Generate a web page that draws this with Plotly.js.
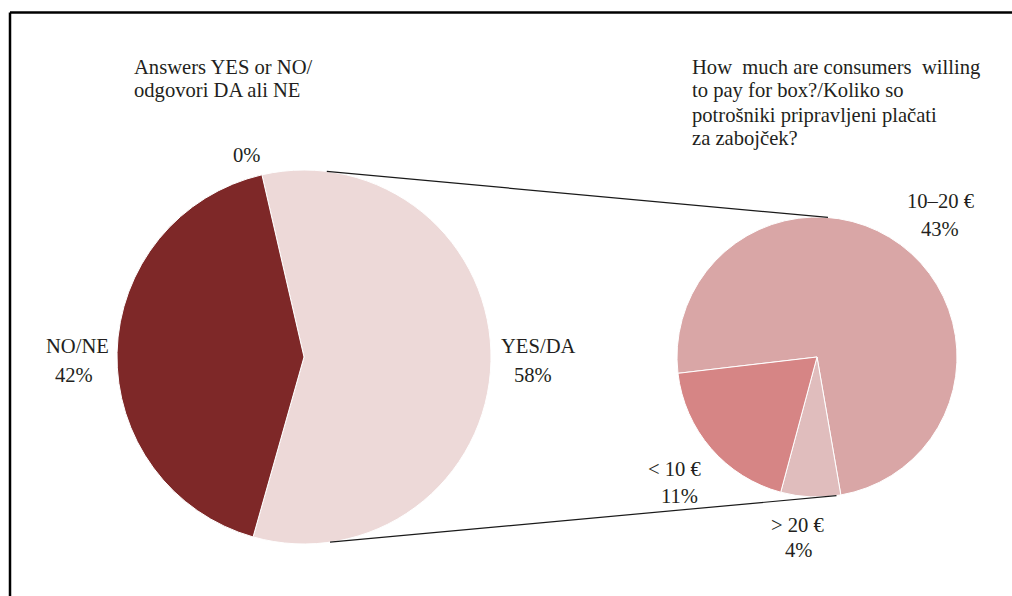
<!DOCTYPE html>
<html>
<head>
<meta charset="utf-8">
<script src="https://cdn.plot.ly/plotly-3.0.1.min.js"></script>
<style>html,body{margin:0;padding:0;background:#fff;}#chart{width:1012px;height:596px;}</style>
</head>
<body>
<div id="chart"></div>
<script>
// ---- data ----
const mainLabels = ['YES/DA', 'NO/NE'];
const mainValues = [58, 42];
const mainColors = ['#EDD9D8', '#7E2828'];
const subLabels = ['10–20 €', '> 20 €', '< 10 €'];
const subValues = [43, 4, 11];
const subColors = ['#D9A6A6', '#E0BDBD', '#D68585'];
const zeroLabel = '0%';
const mainTitleLines = ['Answers YES or NO/', 'odgovori DA ali NE'];
const subTitleLines = ['How\u00a0 much are consumers\u00a0 willing', 'to pay for box?/Koliko so', 'potrošniki pripravljeni plačati', 'za zabojček?'];

// ---- geometry (pixels) ----
const W = 1012, H = 596;
const L = {cx: 304, cy: 357, r: 187};
const R = {cx: 817, cy: 357, r: 140};
function dom(p) {
  return {x: [(p.cx - p.r) / W, (p.cx + p.r) / W], y: [1 - (p.cy + p.r) / H, 1 - (p.cy - p.r) / H]};
}
function px(x) { return x / W; }
function py(y) { return 1 - y / H; }
function onCircle(p, deg) {
  const a = deg * Math.PI / 180;
  return [p.cx + p.r * Math.sin(a), p.cy - p.r * Math.cos(a)];
}

const font = {family: "'Liberation Serif', 'DejaVu Serif', serif", size: 20.6, color: '#231F20'};

const traces = [
  {type: 'pie', labels: mainLabels, values: mainValues, sort: false, direction: 'clockwise', rotation: -13,
   marker: {colors: mainColors, line: {color: '#ffffff', width: 1}}, textinfo: 'none', hoverinfo: 'label+percent',
   domain: dom(L), showlegend: false},
  {type: 'pie', labels: subLabels, values: subValues, sort: false, direction: 'clockwise', rotation: 263.3,
   marker: {colors: subColors, line: {color: '#ffffff', width: 1}}, textinfo: 'none', hoverinfo: 'label+value',
   domain: dom(R), showlegend: false}
];

function ann(text, x, y, xanchor) {
  return {text: text, x: px(x), y: py(y), xref: 'paper', yref: 'paper', xanchor: xanchor || 'center', yanchor: 'middle', showarrow: false, font: font};
}
const annotations = [];
mainTitleLines.forEach((t, i) => annotations.push(ann(t, 132, 67 + 24 * i, 'left')));
subTitleLines.forEach((t, i) => annotations.push(ann(t, 690, 67 + 24 * i, 'left')));
annotations.push(ann(zeroLabel, 246, 155));
// main pie labels: [name x, name y, pct x, pct y]
const mainPos = [[538, 346, 533, 375], [77, 346, 74, 375]];
mainLabels.forEach((l, i) => {
  const p = mainPos[i];
  annotations.push(ann(l, p[0], p[1]));
  annotations.push(ann(mainValues[i] + '%', p[2], p[3]));
});
const subPos = [[940, 201, 940, 229], [797, 525, 798, 550], [674, 469, 679, 496]];
subLabels.forEach((l, i) => {
  const p = subPos[i];
  annotations.push(ann(l, p[0], p[1]));
  annotations.push(ann(subValues[i] + '%', p[2], p[3]));
});

// connector lines between the pies
const lt = onCircle(L, 7), lb = onCircle(L, 172);
const rt = onCircle(R, 4.5), rb = onCircle(R, 172);
const shapes = [
  {type: 'line', xref: 'paper', yref: 'paper', x0: px(lt[0]), y0: py(lt[1]), x1: px(rt[0]), y1: py(rt[1]), line: {color: '#1a1a1a', width: 1.2}},
  {type: 'line', xref: 'paper', yref: 'paper', x0: px(lb[0]), y0: py(lb[1]), x1: px(rb[0]), y1: py(rb[1]), line: {color: '#1a1a1a', width: 1.2}},
  // frame
  {type: 'line', xref: 'paper', yref: 'paper', x0: px(10), y0: py(12.5), x1: 1, y1: py(12.5), line: {color: '#000', width: 2.5}},
  {type: 'line', xref: 'paper', yref: 'paper', x0: px(10), y0: py(12.5), x1: px(10), y1: 0, line: {color: '#000', width: 2.5}}
];

const layout = {
  width: W, height: H,
  margin: {l: 0, r: 0, t: 0, b: 0},
  paper_bgcolor: '#ffffff',
  showlegend: false,
  annotations: annotations,
  shapes: shapes,
  font: font
};
Plotly.newPlot('chart', traces, layout, {displayModeBar: false, staticPlot: true});
</script>
</body>
</html>
